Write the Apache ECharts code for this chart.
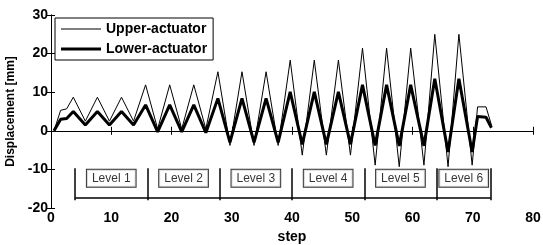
<!DOCTYPE html>
<html lang="en">
<head>
    <meta charset="UTF-8">
    <title>Actuator displacement</title>
    <script src="https://cdn.jsdelivr.net/npm/echarts@6.0.0/dist/echarts.min.js"></script>
    <style>
        html, body { margin: 0; padding: 0; background: #fff; }
    </style>
</head>
<body>
    <div id="main" style="width: 543px;height:245px;"></div>
    <script type="text/javascript">
        // step positions of the vertices (peaks / troughs)
        const steps = [0.5, 1.6, 2.6, 3.7, 5.7, 7.7, 9.7, 11.7, 13.7, 15.7, 17.7, 19.7, 21.7, 23.7, 25.7,
            27.7, 29.7, 31.7, 33.7, 35.7, 37.7, 39.7, 41.7, 43.7, 45.7, 47.7, 49.7, 51.7, 53.8,
            55.7, 57.8, 59.7, 61.9, 63.7, 65.9, 67.7, 69.9, 70.8, 72.2, 73.1];
        const upperActuator = [0, 5.3, 5.7, 8.7, 2.5, 8.7, 2.5, 8.7, 2.5, 11.9, 0.5, 11.9, 0.5, 11.9, 0.5,
            15.3, -3.8, 15.3, -3.8, 15.3, -3.8, 18.3, -6.3, 18.3, -6.3, 18.3, -6.3, 21.4, -8.9,
            21.4, -9.3, 21.4, -8.9, 25.0, -9.3, 25.0, -8.9, 6.2, 6.2, 1.5];
        const lowerActuator = [0, 3.0, 3.2, 5.0, 1.5, 5.0, 1.5, 5.0, 1.5, 6.7, -0.3, 6.7, -0.3, 6.7, -0.5,
            8.4, -3.0, 8.4, -3.0, 8.4, -3.0, 10.1, -3.5, 10.1, -3.5, 10.1, -3.5, 11.9, -3.8,
            11.9, -3.9, 11.9, -3.9, 13.5, -5.5, 13.5, -5.5, 3.7, 3.5, 0.8];

        // level brackets
        const levelBounds = [4, 16, 28, 40, 52, 64, 73];
        const levelNames = ['Level 1', 'Level 2', 'Level 3', 'Level 4', 'Level 5', 'Level 6'];
        const levelCenters = [10, 22, 34, 46, 58, 68.5];

        const pair = (xs, ys) => xs.map((x, i) => [x, ys[i]]);

        const myChart = echarts.init(document.getElementById('main'));

        const tickFont = { color: '#000', fontSize: 14, fontWeight: 'bold', fontFamily: 'Liberation Sans, Arial, sans-serif' };
        const axisLine = { show: true, lineStyle: { color: '#000', width: 1 } };
        const axisTick = { show: true, inside: true, length: 4, lineStyle: { color: '#000' } };

        // bracket segments: verticals at each boundary + one horizontal
        const bracketLines = levelBounds.map(b => [{ coord: [b, -9.7] }, { coord: [b, -18] }]);
        bracketLines.push([{ coord: [levelBounds[0], -17.3] }, { coord: [levelBounds[levelBounds.length - 1], -17.3] }]);

        // legend icons: thin and thick line inside a 40x12 box
        const thinIcon = 'path://M0,0 M0,5.5 L40,5.5 L40,6.5 L0,6.5 Z M40,12';
        const thickIcon = 'path://M0,0 M0,4.5 L40,4.5 L40,7.5 L0,7.5 Z M40,12';

        const options = {
            animation: false,
            textStyle: { fontFamily: 'Liberation Sans, Arial, sans-serif' },
            grid: { left: 51, right: 10, top: 15, bottom: 37, outerBoundsMode: 'none' },
            legend: {
                data: [
                    { name: 'Upper-actuator', icon: thinIcon },
                    { name: 'Lower-actuator', icon: thickIcon }
                ],
                orient: 'vertical',
                left: 55,
                top: 18,
                padding: [4, 6, 4, 6],
                itemGap: 6,
                itemWidth: 40,
                itemHeight: 12,
                borderColor: '#000',
                borderWidth: 1,
                backgroundColor: '#fff',
                textStyle: { color: '#000', fontSize: 14, fontWeight: 'bold' }
            },
            xAxis: [{
                type: 'value', min: 0, max: 80, interval: 10,
                name: 'step', nameLocation: 'middle', nameGap: 21,
                nameTextStyle: tickFont,
                axisLine: axisLine, axisTick: axisTick,
                axisLabel: Object.assign({ margin: 3 }, tickFont),
                splitLine: { show: false }
            }, {
                type: 'value', min: 0, max: 80, interval: 10, position: 'top',
                axisLine: axisLine, axisTick: axisTick,
                axisLabel: { show: false }, splitLine: { show: false }
            }],
            yAxis: [{
                type: 'value', min: -20, max: 30, interval: 10,
                name: 'Displacement [mm]', nameLocation: 'middle', nameGap: 33,
                nameTextStyle: { color: '#000', fontSize: 12, fontWeight: 'bold' },
                axisLine: axisLine, axisTick: axisTick,
                axisLabel: Object.assign({ margin: 3 }, tickFont),
                splitLine: { show: false }
            }, {
                type: 'value', min: -20, max: 30, interval: 10, position: 'right',
                axisLine: axisLine, axisTick: axisTick,
                axisLabel: { show: false }, splitLine: { show: false }
            }],
            series: [{
                name: 'Upper-actuator',
                type: 'line',
                data: pair(steps, upperActuator),
                symbol: 'none',
                color: '#000',
                lineStyle: { color: '#000', width: 1 },
                z: 3
            }, {
                name: 'Lower-actuator',
                type: 'line',
                data: pair(steps, lowerActuator),
                symbol: 'none',
                color: '#000',
                lineStyle: { color: '#000', width: 3 },
                z: 2
            }, {
                name: 'levels',
                type: 'scatter',
                data: levelCenters.map((c, i) => ({ name: levelNames[i], value: [c, -12.3] })),
                symbolSize: 0,
                silent: true,
                label: {
                    show: true,
                    position: 'inside',
                    formatter: p => p.name,
                    color: '#000',
                    fontSize: 12,
                    backgroundColor: '#fff',
                    borderColor: '#000',
                    borderWidth: 1,
                    padding: [3, 5, 2, 5]
                },
                markLine: {
                    silent: true,
                    symbol: 'none',
                    label: { show: false },
                    lineStyle: { color: '#000', width: 1.5, type: 'solid' },
                    data: bracketLines
                },
                z: 4
            }]
        };

        myChart.setOption(options);
    </script>
</body>
</html>
